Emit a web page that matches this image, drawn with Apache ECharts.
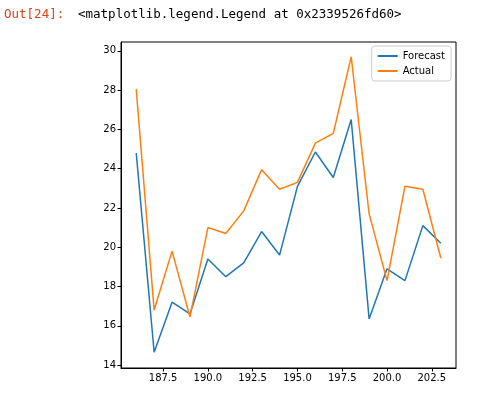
<!DOCTYPE html>
<html><head><meta charset="utf-8">
<script src="https://cdn.jsdelivr.net/npm/echarts@6/dist/echarts.min.js"></script>
<style>html,body{margin:0;padding:0;background:#fff;}#c{width:478px;height:393px;}</style>
</head><body><div id="c"></div>
<script>
const xValues = [186,187,188,189,190,191,192,193,194,195,196,197,198,199,200,201,202,203];
const forecast = [24.8,14.65,17.2,16.6,19.4,18.5,19.2,20.8,19.6,23.1,24.85,23.55,26.5,16.35,18.9,18.3,21.1,20.2];
const actual = [28.05,16.8,19.8,16.45,21.0,20.7,21.85,23.95,22.95,23.3,25.3,25.8,29.7,21.7,18.3,23.1,22.95,19.45];
const xTicks = [187.5,190.0,192.5,195.0,197.5,200.0,202.5];
const yTicks = [14,16,18,20,22,24,26,28,30];
const seriesNames = ['Forecast','Actual'];

const chart = echarts.init(document.getElementById('c'), null, {renderer:'canvas'});
const font = 'DejaVu Sans';
chart.setOption({
  animation:false,
  backgroundColor:'#fff',
  graphic:[
    {type:'text', left:4, top:8, style:{text:'Out[24]:', fill:'#D84315', font:'12.5px "DejaVu Sans Mono"'}},
    {type:'text', left:78, top:8, style:{text:'<matplotlib.legend.Legend at 0x2339526fd60>', fill:'#000', font:'12.5px "DejaVu Sans Mono"'}}
  ],
  grid:{left:121, right:22, top:42, bottom:25, show:true, borderColor:'#000', borderWidth:1, backgroundColor:'transparent'},
  legend:{
    right:27, top:46, orient:'vertical', itemWidth:20, itemHeight:2, itemGap:5,
    padding:[5,6,5,6], borderColor:'#ccc', borderWidth:1, borderRadius:3, backgroundColor:'#fff',
    textStyle:{fontFamily:font, fontSize:10, color:'#000'},
    data:seriesNames.map(n=>({name:n, icon:'rect'}))
  },
  xAxis:{
    type:'value', min:185.15, max:203.85,
    axisLine:{show:true, onZero:false, lineStyle:{color:'#000', width:1}},
    axisTick:{show:true, length:3.5, customValues:xTicks, lineStyle:{color:'#000'}},
    axisLabel:{customValues:xTicks, formatter:v=>v.toFixed(1), fontFamily:font, fontSize:10, color:'#000', margin:5},
    splitLine:{show:false}
  },
  yAxis:{
    type:'value', min:13.85, max:30.45,
    axisLine:{show:true, onZero:false, lineStyle:{color:'#000', width:1}},
    axisTick:{show:true, length:3.5, customValues:yTicks, lineStyle:{color:'#000'}},
    axisLabel:{customValues:yTicks, formatter:v=>String(v), fontFamily:font, fontSize:10, color:'#000', margin:5},
    splitLine:{show:false}
  },
  series:[
    {name:seriesNames[0], type:'line', data:xValues.map((x,i)=>[x,forecast[i]]), showSymbol:false, symbol:'none', lineStyle:{color:'#1f77b4', width:1.5}, itemStyle:{color:'#1f77b4'}},
    {name:seriesNames[1], type:'line', data:xValues.map((x,i)=>[x,actual[i]]), showSymbol:false, symbol:'none', lineStyle:{color:'#ff7f0e', width:1.5}, itemStyle:{color:'#ff7f0e'}}
  ]
});
</script></body></html>
